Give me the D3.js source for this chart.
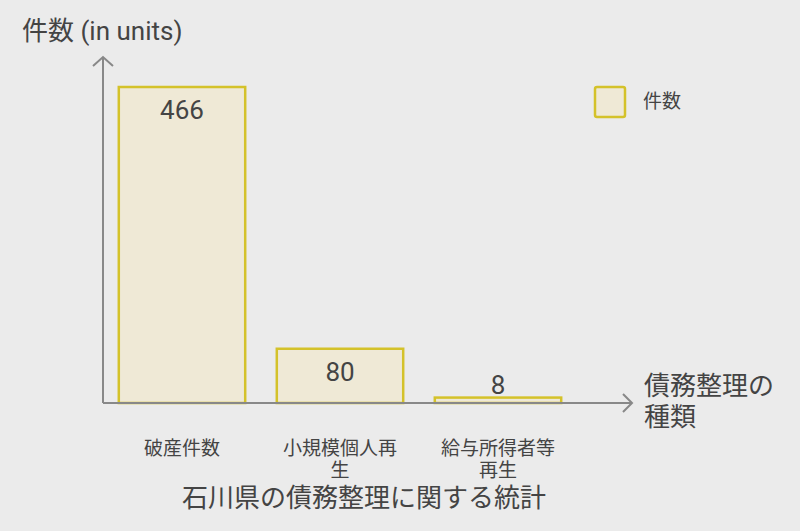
<!DOCTYPE html>
<html>
<head>
<meta charset="utf-8">
<script src="https://cdn.jsdelivr.net/npm/d3@7"></script>
<style>
  body { margin: 0; background: #ebebeb; }
  svg { display: block; font-family: Roboto, "Noto Sans CJK JP", sans-serif; }
</style>
</head>
<body>
<script>
const categories = ["破産件数", "小規模個人再生", "給与所得者等再生"];
const counts = [466, 80, 8];
const seriesName = "件数";
const yTitle = "件数 (in units)";
const xTitle = ["債務整理の", "種類"];
const chartTitle = "石川県の債務整理に関する統計";
// manual line breaks for the tick labels
const tickLines = [["破産件数"], ["小規模個人再", "生"], ["給与所得者等", "再生"]];

const width = 800;
const height = 531;
const textColor = "#444";
const axisColor = "#888";
const barFill = "#efe9d6";
const barStroke = "#d4c22a";

const svg = d3.select("body")
    .append("svg")
    .attr("width", width)
    .attr("height", height);

const xScale = d3.scaleBand()
    .domain(categories)
    .range([103, 577])
    .paddingInner(0.2)
    .paddingOuter(0.1);

const yScale = d3.scaleLinear()
    .domain([0, 466])
    .range([403, 87]);

// bars
svg.selectAll("rect.bar")
    .data(categories)
    .enter()
    .append("rect")
    .attr("class", "bar")
    .attr("x", d => xScale(d))
    .attr("y", (d, i) => yScale(counts[i]))
    .attr("width", xScale.bandwidth())
    .attr("height", (d, i) => yScale(0) - yScale(counts[i]))
    .attr("fill", barFill)
    .attr("stroke", barStroke)
    .attr("stroke-width", 2.5);

// value labels
svg.selectAll("text.value")
    .data(categories)
    .enter()
    .append("text")
    .attr("class", "value")
    .attr("x", d => xScale(d) + xScale.bandwidth() / 2)
    .attr("y", (d, i) => {
        const top = yScale(counts[i]);
        return (yScale(0) - top) > 40 ? top + 32 : top - 4;
    })
    .attr("text-anchor", "middle")
    .style("font-size", "26px")
    .attr("fill", textColor)
    .text((d, i) => counts[i]);

// axes
const x0 = 103, y0 = yScale(0);
svg.append("path")
    .attr("d", `M${x0},${y0}V57M${x0 - 10},66L${x0},57L${x0 + 10},66`)
    .attr("fill", "none")
    .attr("stroke", axisColor)
    .attr("stroke-width", 2);

svg.append("path")
    .attr("d", `M${x0},${y0}H632M623,${y0 - 9}L632,${y0}L623,${y0 + 9}`)
    .attr("fill", "none")
    .attr("stroke", axisColor)
    .attr("stroke-width", 2);

// tick labels
const ticks = svg.selectAll("text.tick")
    .data(categories)
    .enter()
    .append("text")
    .attr("class", "tick")
    .attr("x", d => xScale(d) + xScale.bandwidth() / 2)
    .attr("y", 455)
    .attr("text-anchor", "middle")
    .style("font-size", "19px")
    .attr("fill", textColor);

ticks.each(function (d, i) {
    const t = d3.select(this);
    tickLines[i].forEach((line, j) => {
        t.append("tspan")
            .attr("x", xScale(d) + xScale.bandwidth() / 2)
            .attr("dy", j === 0 ? 0 : 22)
            .text(line);
    });
});

// axis titles
svg.append("text")
    .attr("x", 22)
    .attr("y", 40)
    .style("font-size", "26px")
    .attr("fill", textColor)
    .text(yTitle);

const xt = svg.append("text")
    .attr("x", 644)
    .attr("y", 395)
    .style("font-size", "26px")
    .attr("fill", textColor);
xTitle.forEach((line, j) => {
    xt.append("tspan")
        .attr("x", 644)
        .attr("dy", j === 0 ? 0 : 31)
        .text(line);
});

// chart title
svg.append("text")
    .attr("x", 364)
    .attr("y", 507)
    .attr("text-anchor", "middle")
    .style("font-size", "26px")
    .attr("fill", textColor)
    .text(chartTitle);

// legend
svg.append("rect")
    .attr("x", 595)
    .attr("y", 87)
    .attr("width", 30)
    .attr("height", 30)
    .attr("rx", 2)
    .attr("fill", barFill)
    .attr("stroke", barStroke)
    .attr("stroke-width", 2.5);

svg.append("text")
    .attr("x", 643)
    .attr("y", 108)
    .style("font-size", "19px")
    .attr("fill", textColor)
    .text(seriesName);
</script>
</body>
</html>
